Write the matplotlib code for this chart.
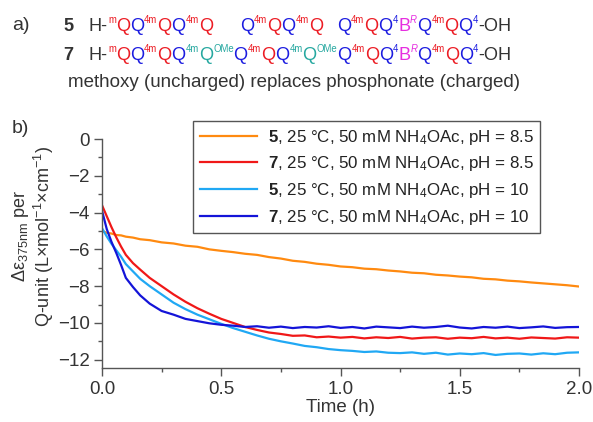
import numpy as np
import matplotlib
matplotlib.use("Agg")
import matplotlib.pyplot as plt
from matplotlib.ticker import MultipleLocator

plt.rcParams["font.family"] = ["Liberation Sans", "DejaVu Sans"]
plt.rcParams["mathtext.fontset"] = "custom"
plt.rcParams["mathtext.rm"] = "Liberation Sans"
plt.rcParams["mathtext.it"] = "Liberation Sans:italic"
plt.rcParams["mathtext.bf"] = "Liberation Sans:bold"

# time in hours
time_h = [0, 0.02, 0.04, 0.06, 0.08, 0.10, 0.13, 0.16, 0.20, 0.25, 0.30, 0.35,
          0.40, 0.45, 0.50, 0.55, 0.60, 0.65, 0.70, 0.75, 0.80, 0.85, 0.90, 0.95,
          1.00, 1.05, 1.10, 1.15, 1.20, 1.25, 1.30, 1.35, 1.40, 1.45, 1.50, 1.55,
          1.60, 1.65, 1.70, 1.75, 1.80, 1.85, 1.90, 1.95, 2.00]

# delta epsilon (375 nm) per Q-unit
s5_ph85 = [-5.00, -5.10, -5.14, -5.22, -5.24, -5.31, -5.36, -5.45, -5.50, -5.62,
           -5.68, -5.80, -5.86, -6.00, -6.08, -6.15, -6.24, -6.30, -6.42, -6.50,
           -6.62, -6.68, -6.78, -6.84, -6.93, -6.97, -7.05, -7.08, -7.15, -7.20,
           -7.27, -7.30, -7.38, -7.42, -7.48, -7.52, -7.60, -7.63, -7.70, -7.74,
           -7.80, -7.85, -7.90, -7.95, -8.02]
s7_ph85 = [-3.60, -4.20, -4.80, -5.35, -5.85, -6.30, -6.75, -7.10, -7.55, -8.00,
           -8.45, -8.85, -9.20, -9.50, -9.78, -10.00, -10.22, -10.38, -10.52, -10.60,
           -10.70, -10.68, -10.78, -10.74, -10.80, -10.76, -10.84, -10.78, -10.82, -10.76,
           -10.85, -10.80, -10.78, -10.86, -10.80, -10.83, -10.76, -10.84, -10.80, -10.86,
           -10.79, -10.82, -10.85, -10.78, -10.80]
s5_ph10 = [-4.85, -5.30, -5.70, -6.05, -6.40, -6.80, -7.20, -7.60, -8.00, -8.45,
           -8.90, -9.25, -9.55, -9.80, -10.05, -10.28, -10.48, -10.68, -10.86, -11.00,
           -11.12, -11.25, -11.32, -11.42, -11.48, -11.52, -11.58, -11.55, -11.62, -11.64,
           -11.60, -11.68, -11.62, -11.72, -11.66, -11.70, -11.64, -11.74, -11.68, -11.66,
           -11.72, -11.65, -11.70, -11.62, -11.60]
s7_ph10 = [-3.90, -4.90, -5.60, -6.20, -6.85, -7.55, -8.05, -8.50, -8.95, -9.35,
           -9.55, -9.78, -9.90, -10.02, -10.10, -10.15, -10.22, -10.18, -10.26, -10.20,
           -10.28, -10.22, -10.25, -10.18, -10.27, -10.22, -10.30, -10.20, -10.24, -10.28,
           -10.20, -10.26, -10.22, -10.15, -10.25, -10.30, -10.22, -10.26, -10.20, -10.28,
           -10.24, -10.19, -10.27, -10.23, -10.22]

labels = [r"$\mathbf{5}$, 25 °C, 50 mM NH$_4$OAc, pH = 8.5",
          r"$\mathbf{7}$, 25 °C, 50 mM NH$_4$OAc, pH = 8.5",
          r"$\mathbf{5}$, 25 °C, 50 mM NH$_4$OAc, pH = 10",
          r"$\mathbf{7}$, 25 °C, 50 mM NH$_4$OAc, pH = 10"]
colors = ["#ff8a10", "#f01818", "#20a8f4", "#1414d8"]

W, H = 593, 422
fig = plt.figure(figsize=(W / 100, H / 100), dpi=100)
ax = fig.add_axes([102 / W, 1 - 368 / H, 477 / W, 229 / H])

for ys, c, lab in zip([s5_ph85, s7_ph85, s5_ph10, s7_ph10], colors, labels):
    ax.plot(time_h, ys, color=c, lw=1.6, label=lab)

ax.set_xlim(0, 2)
ax.set_ylim(-12.45, 0)
ax.xaxis.set_major_locator(MultipleLocator(0.5))
ax.xaxis.set_minor_locator(MultipleLocator(0.25))
ax.yaxis.set_major_locator(MultipleLocator(2))
ax.yaxis.set_minor_locator(MultipleLocator(1))
ax.xaxis.set_major_formatter(matplotlib.ticker.FormatStrFormatter("%.1f"))
for s in ["top", "right"]:
    ax.spines[s].set_visible(False)
for s in ["left", "bottom"]:
    ax.spines[s].set_color("#555555")
    ax.spines[s].set_linewidth(1.0)
ax.tick_params(which="major", length=6, width=1, color="#555555",
               labelsize=13.5, labelcolor="#333333", pad=3)
ax.tick_params(which="minor", length=3, width=1, color="#555555")
ax.set_xlabel("Time (h)", fontsize=13.5, color="#333333", labelpad=1)

leg = ax.legend(loc="upper left", bbox_to_anchor=(193 / W, 1 - 121 / H),
                bbox_transform=fig.transFigure, borderaxespad=0, fontsize=12.2,
                handlelength=3.4, handletextpad=0.6, labelspacing=0.45,
                fancybox=False, edgecolor="#555555", framealpha=1,
                borderpad=0.4)
leg.get_frame().set_linewidth(1.0)
for t in leg.get_texts():
    t.set_color("#222222")

fig.text(33 / W, 1 - 236 / H,
         "Δε$_{375\\mathrm{nm}}$ per\nQ-unit (L×mol$^{-1}$×cm$^{-1}$)",
         rotation=90, ha="center", va="center", multialignment="center",
         fontsize=13, linespacing=1.0, color="#333333")
fig.text(12 / W, 1 - 133 / H, "b)", fontsize=14, color="#333333")
fig.text(12 / W, 1 - 30 / H, "a)", fontsize=14, color="#333333")

# sequence text, drawn piece by piece
RED, BLU, TEA, MAG, DRK = "#ec1c24", "#1c1ce0", "#26a8a0", "#e62ee0", "#333333"
MAIN, SUP = 13.1, 6.9
renderer = fig.canvas.get_renderer()


def draw_parts(x, base, parts):
    for txt, col, kind in parts:
        size = SUP if kind in ("s", "si") else MAIN
        y = base - (7.8 if kind in ("s", "si") else 0)
        t = fig.text(x / W, 1 - y / H, txt, color=col, fontsize=size,
                     va="baseline", ha="left",
                     fontweight="bold" if kind == "b" else "normal",
                     fontstyle="italic" if kind == "si" else "normal")
        x += t.get_window_extent(renderer).width
    return x


b1, b2 = 31, 60
draw_parts(63, b1, [("5", DRK, "b")])
draw_parts(63, b2, [("7", DRK, "b")])
draw_parts(89, b1, [("H-", DRK, "n"), ("m", RED, "s"), ("Q", RED, "n"),
                    ("Q", BLU, "n"), ("4m", RED, "s"), ("Q", RED, "n"),
                    ("Q", BLU, "n"), ("4m", RED, "s"), ("Q", RED, "n")])
draw_parts(240, b1, [("Q", BLU, "n"), ("4m", RED, "s"), ("Q", RED, "n"),
                     ("Q", BLU, "n"), ("4m", RED, "s"), ("Q", RED, "n")])
draw_parts(337, b1, [("Q", BLU, "n"), ("4m", RED, "s"), ("Q", RED, "n"),
                     ("Q", BLU, "n"), ("4", BLU, "s"), ("B", MAG, "n"),
                     ("R", MAG, "si"), ("Q", BLU, "n"), ("4m", RED, "s"),
                     ("Q", RED, "n"), ("Q", BLU, "n"), ("4", BLU, "s"),
                     ("-OH", DRK, "n")])
draw_parts(89, b2, [("H-", DRK, "n"), ("m", RED, "s"), ("Q", RED, "n"),
                    ("Q", BLU, "n"), ("4m", RED, "s"), ("Q", RED, "n"),
                    ("Q", BLU, "n"), ("4m", TEA, "s"), ("Q", TEA, "n"),
                    ("OMe", TEA, "s"), ("Q", BLU, "n"), ("4m", RED, "s"),
                    ("Q", RED, "n"), ("Q", BLU, "n"), ("4m", TEA, "s"),
                    ("Q", TEA, "n"), ("OMe", TEA, "s"), ("Q", BLU, "n"),
                    ("4m", RED, "s"), ("Q", RED, "n"), ("Q", BLU, "n"),
                    ("4", BLU, "s"), ("B", MAG, "n"), ("R", MAG, "si"),
                    ("Q", BLU, "n"), ("4m", RED, "s"), ("Q", RED, "n"),
                    ("Q", BLU, "n"), ("4", BLU, "s"), ("-OH", DRK, "n")])
fig.text(68 / W, 1 - 87 / H, "methoxy (uncharged) replaces phosphonate (charged)",
         fontsize=13.5, color=DRK, va="baseline")

fig.savefig("out.png", dpi=100)
